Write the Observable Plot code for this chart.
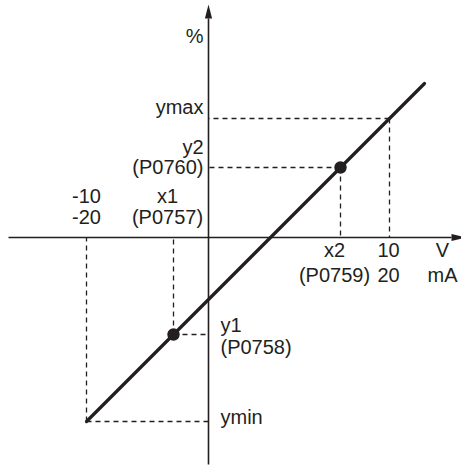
<!DOCTYPE html>
<html><head><meta charset="utf-8">
<script src="https://cdn.jsdelivr.net/npm/d3@7"></script>
<script src="https://cdn.jsdelivr.net/npm/@observablehq/plot@0.6"></script>
<style>body{margin:0;background:#fff}</style>
</head><body><div id="chart"></div>
<script>
// Schematic scaling diagram (abstract units, origin at the axes crossing)
// Guide points: ymin at -10 V / -20 mA, (x1,y1), (x2,y2), ymax at 10 V / 20 mA
const guideNames = ["ymin", "y1", "y2", "ymax"];
const guideX = [-122, -35, 132, 181];
const guideY = [-184, -97, 70, 119];
// Parameter points shown as dots
const dotX = [-35, 132];
const dotY = [-97, 70];
// Characteristic line ends
const lineX = [-122, 216];
const lineY = [-184, 154];
// Axis extents
const xAxisSpan = [-200, 243];
const yAxisSpan = [-227, 219];

// Labels
const leftText = ["%", "ymax", "y2\n(P0760)"];
const leftY = [195, 124, 64];
const aboveText = ["-10\n-20", "x1\n(P0757)"];
const aboveX = [-122, -41];
const belowText = ["x2\n(P0759)", "10\n20", "V\nmA"];
const belowX = [126, 180, 234];
const rightText = ["y1\n(P0758)", "ymin"];
const rightY = [-116, -186];

const ink = "#231f20";
const font = "'Liberation Sans', Arial, Helvetica, sans-serif";

const guides = guideX.map((x, i) => ({name: guideNames[i], x, y: guideY[i]}));
const dots = dotX.map((x, i) => ({x, y: dotY[i]}));

const arrowHead = {
  draw(context) {
    context.moveTo(0, -14);
    context.lineTo(3.6, 0);
    context.lineTo(-3.6, 0);
    context.closePath();
  }
};

const textOpts = {fill: ink, fontSize: 20, fontFamily: font, lineAnchor: "bottom", stroke: null};

const chart = Plot.plot({
  width: 461,
  height: 465,
  margin: 0,
  x: {domain: [-208, 253], axis: null},
  y: {domain: [-228, 237], axis: null},
  style: {background: "#fff", fontFamily: font},
  marks: [
    // dashed guides
    Plot.link(guides, {x1: "x", y1: "y", x2: 0, y2: "y", stroke: ink, strokeWidth: 1.3, strokeDasharray: "5,4"}),
    Plot.link(guides, {x1: "x", y1: "y", x2: "x", y2: 0, stroke: ink, strokeWidth: 1.3, strokeDasharray: "5,4"}),
    // axes
    Plot.link([0], {x1: xAxisSpan[0], x2: xAxisSpan[1], y1: 0, y2: 0, stroke: ink, strokeWidth: 1.6}),
    Plot.link([0], {x1: 0, x2: 0, y1: yAxisSpan[0], y2: yAxisSpan[1], stroke: ink, strokeWidth: 1.6}),
    Plot.dot([0], {x: xAxisSpan[1], y: 0, symbol: arrowHead, rotate: 90, fill: ink, stroke: null}),
    Plot.dot([0], {x: 0, y: yAxisSpan[1], symbol: arrowHead, rotate: 0, fill: ink, stroke: null}),
    // characteristic line
    Plot.line(lineX.map((x, i) => ({x, y: lineY[i]})), {x: "x", y: "y", stroke: ink, strokeWidth: 3.2}),
    Plot.dot(dots, {x: "x", y: "y", r: 6.2, fill: ink, stroke: null}),
    // labels
    Plot.text(leftText, {x: -5, y: (d, i) => leftY[i], text: d => d, textAnchor: "end", lineHeight: 1.0, ...textOpts}),
    Plot.text(aboveText, {x: (d, i) => aboveX[i], y: 14, text: d => d, textAnchor: "middle", lineHeight: 1.05, ...textOpts}),
    Plot.text(belowText, {x: (d, i) => belowX[i], y: -44, text: d => d, textAnchor: "middle", lineHeight: 1.25, ...textOpts}),
    Plot.text(rightText, {x: 12, y: (d, i) => rightY[i], text: d => d, textAnchor: "start", lineHeight: 1.1, ...textOpts})
  ]
});
document.getElementById("chart").appendChild(chart);
</script>
</body></html>
